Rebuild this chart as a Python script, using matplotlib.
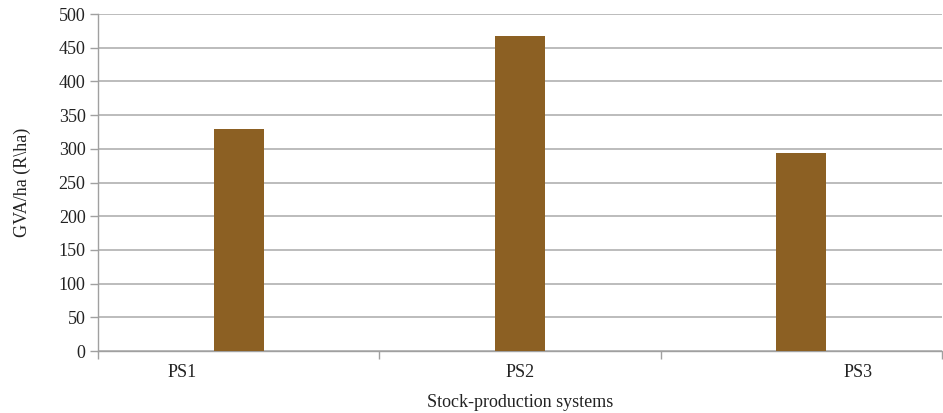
import matplotlib.pyplot as plt

categories = ["PS1", "PS2", "PS3"]
gva_per_ha = [329, 467, 294]

plt.rcParams['font.family'] = ['Liberation Serif', 'DejaVu Serif']

fig = plt.figure(figsize=(9.43, 4.13), dpi=100)
ax = fig.add_axes([0.104, 0.150, 0.895, 0.816])

x = list(range(len(categories)))
ax.bar(x, gva_per_ha, width=0.177, color="#8c6023", zorder=3)

ax.set_xlim(-0.5, len(categories) - 0.5)
ax.set_ylim(0, 500)
ax.set_yticks(range(0, 501, 50))
ax.grid(axis="y", color="#b0b0b0", linewidth=1.2, zorder=0)

# category labels sit a bit off-centre in the original
ax.set_xticks([-0.2, 1, 2.2])
ax.set_xticklabels(categories)
ax.set_xticks([i - 0.5 for i in range(len(categories) + 1)], minor=True)
ax.tick_params(axis="x", which="major", length=0, pad=9, labelsize=13, labelcolor="#222222")
ax.tick_params(axis="x", which="minor", length=6, color="#a0a0a0", width=1)
ax.tick_params(axis="y", length=6, color="#a0a0a0", width=1, labelsize=13, pad=3, labelcolor="#222222")

for s in ["top", "right"]:
    ax.spines[s].set_visible(False)
for s in ["left", "bottom"]:
    ax.spines[s].set_color("#a0a0a0")
    ax.spines[s].set_linewidth(1)

ax.set_ylabel("GVA/ha (R\\ha)", fontsize=13, labelpad=20, color="#222222")
ax.set_xlabel("Stock-production systems", fontsize=13, labelpad=10, color="#222222")

fig.savefig("out.png", dpi=100)
